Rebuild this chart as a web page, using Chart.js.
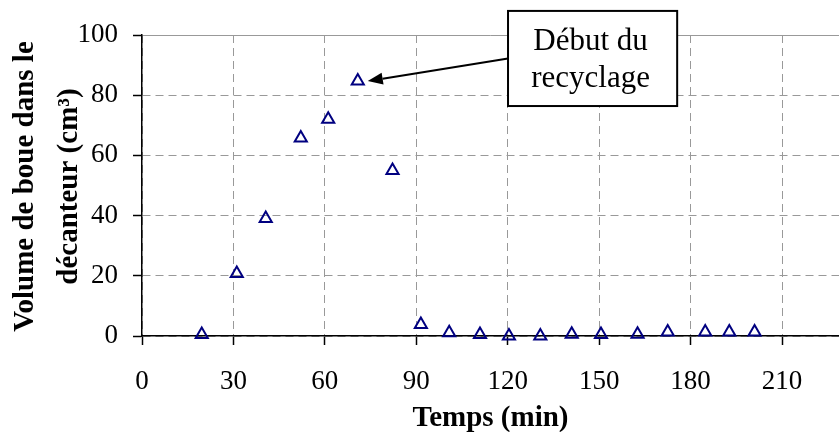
<!DOCTYPE html>
<html>
<head>
<meta charset="utf-8">
<script src="https://cdn.jsdelivr.net/npm/chart.js@4.4.1/dist/chart.umd.min.js"></script>
<style>
  html, body { margin: 0; padding: 0; background: #fff; }
</style>
</head>
<body>
<canvas id="boue" width="839" height="432"></canvas>
<script>
// temps (min) and volume of sludge (cm3)
const temps = [19.6, 31.1, 40.6, 52.1, 61.1, 70.8, 82.2, 91.5, 100.8, 110.9, 120.4, 130.7, 141, 150.6, 162.6, 172.5, 184.8, 192.7, 201];
const volume = [0.5, 20.8, 39, 65.8, 72, 84.7, 55, 3.8, 1.1, 0.5, 0, 0, 0.6, 0.5, 0.6, 1.3, 1.3, 1.3, 1.3];
const xTicks = [0, 30, 60, 90, 120, 150, 180, 210];
const yTicks = [0, 20, 40, 60, 80, 100];
const xTitle = 'Temps (min)';
const yTitle = ['Volume de boue dans le', 'décanteur (cm³)'];
const noteLines = ['Début du', 'recyclage'];

const serif = '"Liberation Serif", "Times New Roman", serif';

const axisTitles = {
  id: 'axisTitles',
  afterDraw(chart) {
    const {ctx, chartArea: a} = chart;
    ctx.save();
    ctx.fillStyle = '#000';
    ctx.font = 'bold 29px ' + serif;
    ctx.textAlign = 'center';
    ctx.textBaseline = 'alphabetic';
    ctx.fillText(xTitle, (a.left + a.right) / 2, a.bottom + 90);
    ctx.translate(0, (a.top + a.bottom) / 2 + 1);
    ctx.rotate(-Math.PI / 2);
    ctx.fillText(yTitle[0], 0, a.left - 109);
    ctx.fillText(yTitle[1], 0, a.left - 65);
    ctx.restore();
  }
};

// text box with arrow pointing at the start of recycling
const note = {
  id: 'note',
  afterDatasetsDraw(chart) {
    const {ctx, scales: {x, y}} = chart;
    const left = x.getPixelForValue(120.1), right = x.getPixelForValue(175.6);
    const top = y.getPixelForValue(108), bottom = y.getPixelForValue(76.4);
    const pt = chart.getDatasetMeta(0).data[5];
    const tipX = pt.x + 10, tipY = pt.y;
    const sx = left, sy = y.getPixelForValue(92.2);
    const ang = Math.atan2(tipY - sy, tipX - sx);
    const headLen = 15, headW = 6;
    const bx = tipX - Math.cos(ang) * headLen, by = tipY - Math.sin(ang) * headLen;

    ctx.save();
    ctx.strokeStyle = '#000';
    ctx.fillStyle = '#000';
    ctx.lineWidth = 2;
    ctx.beginPath();
    ctx.moveTo(sx, sy);
    ctx.lineTo(bx, by);
    ctx.stroke();
    ctx.beginPath();
    ctx.moveTo(tipX, tipY);
    ctx.lineTo(bx + Math.sin(ang) * headW, by - Math.cos(ang) * headW);
    ctx.lineTo(bx - Math.sin(ang) * headW, by + Math.cos(ang) * headW);
    ctx.closePath();
    ctx.fill();

    ctx.fillStyle = '#fff';
    ctx.fillRect(left, top, right - left, bottom - top);
    ctx.strokeRect(left, top, right - left, bottom - top);
    ctx.fillStyle = '#000';
    ctx.font = '31px ' + serif;
    ctx.textAlign = 'center';
    ctx.textBaseline = 'alphabetic';
    const cx = (left + right) / 2 - 2;
    ctx.fillText(noteLines[0], cx, top + 39);
    ctx.fillText(noteLines[1], cx, top + 76);
    ctx.restore();
  }
};

Chart.defaults.font.family = serif;
Chart.defaults.color = '#000';

new Chart(document.getElementById('boue'), {
  type: 'scatter',
  data: {
    datasets: [{
      data: temps.map((t, i) => ({x: t, y: volume[i]})),
      pointStyle: 'triangle',
      pointRadius: 7,
      pointHoverRadius: 7,
      borderWidth: 2,
      borderColor: '#000080',
      backgroundColor: 'rgba(0,0,0,0)',
      clip: false
    }]
  },
  options: {
    responsive: false,
    animation: false,
    layout: {autoPadding: false, padding: {top: 35, left: 0, right: 0, bottom: 0}},
    plugins: {
      legend: {display: false},
      tooltip: {enabled: false}
    },
    scales: {
      x: {
        type: 'linear',
        min: 0,
        max: 228.7,
        afterBuildTicks: s => { s.ticks = xTicks.map(v => ({value: v})); },
        afterFit: s => { s.height = 96; s.paddingRight = 0; s.paddingLeft = 0; },
        ticks: {font: {size: 27}, padding: 21, maxRotation: 0},
        grid: {
          color: '#999',
          lineWidth: 1,
          tickLength: 9,
          tickColor: '#000',
          tickWidth: 1.5
        },
        border: {color: '#000', width: 1.5, dash: [8, 5]}
      },
      y: {
        min: 0,
        max: 100,
        afterBuildTicks: s => { s.ticks = yTicks.map(v => ({value: v})); },
        afterFit: s => { s.width = 142; s.paddingTop = 0; s.paddingBottom = 0; },
        ticks: {font: {size: 27}, padding: 15},
        grid: {
          color: '#999',
          lineWidth: 1,
          tickLength: 9,
          tickColor: '#000',
          tickWidth: 1.5
        },
        border: {
          color: '#000',
          width: 1.5,
          dash: c => (c.tick && c.tick.value === 100) ? [] : [8, 5]
        }
      }
    }
  },
  plugins: [axisTitles, note]
});
</script>
</body>
</html>
